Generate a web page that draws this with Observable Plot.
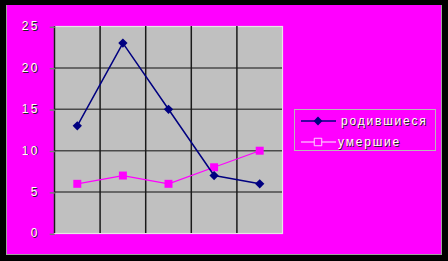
<!DOCTYPE html>
<html>
<head>
<meta charset="utf-8">
<script src="https://cdn.jsdelivr.net/npm/d3@7"></script>
<script src="https://cdn.jsdelivr.net/npm/@observablehq/plot@0.6"></script>
<style>
  html, body { margin: 0; padding: 0; background: #000; }
  #wrap { position: relative; width: 448px; height: 261px; background: #000; overflow: hidden; }
  #panel { position: absolute; left: 6px; top: 5px; width: 434px; height: 249px; background: #ff00ff;
           border-left: 1px solid #a0a0a0; border-right: 1px solid #a0a0a0; border-bottom: 1px solid #a0a0a0; }
  #chart { position: absolute; left: 0; top: 0; }
  #legend { position: absolute; left: 294px; top: 109px; width: 142px; height: 42px;
            border: 1px solid #b8b8b8; box-sizing: border-box; }
</style>
</head>
<body>
<div id="wrap">
  <div id="panel"></div>
  <div id="chart"></div>
  <div id="legend"></div>
</div>
<script>
// Data
const categories = [1, 2, 3, 4, 5];
const born = [13, 23, 15, 7, 6];   // родившиеся
const died = [6, 7, 6, 8, 10];     // умершие
const yTicks = [0, 5, 10, 15, 20, 25];
const seriesNames = ["родившиеся", "умершие"];

const bornData = categories.map((c, i) => ({x: c, y: born[i]}));
const diedData = categories.map((c, i) => ({x: c, y: died[i]}));
const vGrid = d3.range(categories[0] - 0.5, categories[categories.length - 1], 1);
const hGrid = yTicks.filter(t => t > 0 && t < 25);
const FONT = "Arial, 'Liberation Sans', sans-serif";

const axisOpts = {ticks: yTicks, fontSize: 12, fontFamily: FONT,
                  label: null, tickFormat: d => String(d).split("").join("\u2009")};

const chart = Plot.plot({
  width: 448,
  height: 261,
  marginLeft: 54,
  marginRight: 166,
  marginTop: 26,
  marginBottom: 28,
  style: {background: "transparent", overflow: "visible"},
  x: {domain: [0.5, 5.5], axis: null},
  y: {domain: [0, 25], label: null, axis: null},
  marks: [
    Plot.frame({fill: "#c0c0c0", stroke: "#e6e6e6", strokeWidth: 1.2}),
    Plot.ruleY(hGrid, {stroke: "#4a4a4a", strokeWidth: 1.5}),
    Plot.ruleX(vGrid, {stroke: "#1a1a1a", strokeWidth: 1.5}),
    Plot.axisY({...axisOpts, tickSize: 5, tickPadding: 12, stroke: "#7a7a7a", strokeWidth: 1.5,
                fill: "#222", dx: 0.8, dy: 0.8}),
    Plot.axisY({...axisOpts, tickSize: 0, tickPadding: 17, fill: "#ffffff"}),
    Plot.line(diedData, {x: "x", y: "y", stroke: "#ff00ff", strokeWidth: 1.2}),
    Plot.dot(diedData, {x: "x", y: "y", symbol: "square", r: 4.5, fill: "#ff00ff", stroke: "none"}),
    Plot.line(bornData, {x: "x", y: "y", stroke: "#000080", strokeWidth: 1.5}),
    Plot.dot(bornData, {x: "x", y: "y", symbol: "diamond2", r: 4.2, fill: "#000080", stroke: "none"})
  ]
});
document.getElementById("chart").appendChild(chart);

// Legend
const lg = d3.select("#legend").append("svg").attr("width", 142).attr("height", 42)
  .style("position", "absolute").style("left", "-1px").style("top", "-1px");
const items = [
  {name: seriesNames[0], line: "#000080", fill: "#000080", stroke: "none", sym: d3.symbolDiamond2, size: 50},
  {name: seriesNames[1], line: "#ffa6ff", fill: "#ff00ff", stroke: "#ffd6ff", sym: d3.symbolSquare, size: 56}
];
items.forEach((it, i) => {
  const y = 12 + i * 21;
  lg.append("line").attr("x1", 7).attr("x2", 42).attr("y1", y).attr("y2", y)
    .attr("stroke", it.line).attr("stroke-width", 1.3);
  lg.append("path").attr("d", d3.symbol(it.sym, it.size)()).attr("transform", `translate(24,${y})`)
    .attr("fill", it.fill).attr("stroke", it.stroke).attr("stroke-width", 1);
  const tx = i === 0 ? 47 : 44;
  [["#222", 0.8], ["#ffffff", 0]].forEach(([c, off]) => {
    lg.append("text").attr("x", tx + off).attr("y", y + 4 + off)
      .attr("font-family", FONT).attr("font-size", 12).attr("letter-spacing", 1.8)
      .attr("fill", c).text(it.name);
  });
});
</script>
</body>
</html>
